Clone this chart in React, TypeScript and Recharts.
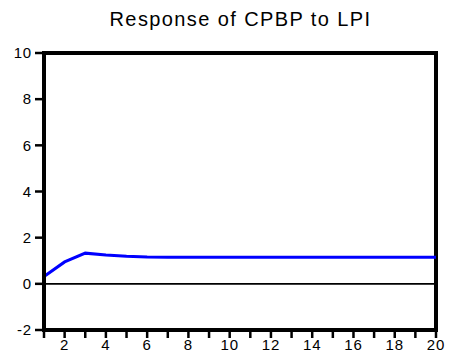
import React from "react";
import {
  LineChart,
  Line,
  XAxis,
  YAxis,
  ReferenceLine,
  ReferenceArea,
} from "recharts";

// horizon periods 1..20
const periods = [1, 2, 3, 4, 5, 6, 7, 8, 9, 10, 11, 12, 13, 14, 15, 16, 17, 18, 19, 20];
// response of CPBP to a shock in LPI
const response = [
  0.32, 0.95, 1.33, 1.25, 1.19, 1.16, 1.15, 1.15, 1.15, 1.15,
  1.15, 1.15, 1.15, 1.15, 1.15, 1.15, 1.15, 1.15, 1.15, 1.15,
];
const yTicks = [-2, 0, 2, 4, 6, 8, 10];

const data = periods.map((p, i) => ({ period: p, value: response[i] }));

const font = "'Liberation Sans', Arial, sans-serif";

export default function App() {
  return (
    <div
      style={{
        position: "absolute",
        left: 0,
        top: 0,
        width: 451,
        height: 355,
        background: "#fff",
        fontFamily: font,
      }}
    >
      <div
        style={{
          position: "absolute",
          top: 7,
          left: 0,
          width: 451,
          textAlign: "center",
          fontSize: 20,
          lineHeight: "24px",
          letterSpacing: 1.4,
          color: "#000",
          paddingLeft: 30,
          boxSizing: "border-box",
        }}
      >
        Response of CPBP to LPI
      </div>
      <LineChart
        width={451}
        height={355}
        data={data}
        margin={{ top: 53, right: 15, bottom: 0, left: 0 }}
      >
        <XAxis
          dataKey="period"
          type="number"
          domain={[1, 20]}
          ticks={periods}
          tickFormatter={(v: number) => (v % 2 === 0 ? String(v) : "")}
          interval={0}
          axisLine={{ stroke: "#000", strokeWidth: 4 }}
          tickLine={{ stroke: "#000", strokeWidth: 2.5 }}
          tickSize={8}
          tickMargin={1}
          tick={{ fontSize: 15, fill: "#000", fontFamily: font, letterSpacing: 0.8 }}
          height={25}
        />
        <YAxis
          type="number"
          domain={[-2, 10]}
          ticks={yTicks}
          interval={0}
          axisLine={{ stroke: "#000", strokeWidth: 4 }}
          tickLine={{ stroke: "#000", strokeWidth: 2.5 }}
          tickSize={9}
          tickMargin={3}
          tick={{ fontSize: 15, fill: "#000", fontFamily: font, letterSpacing: 0.8 }}
          width={44}
        />
        <ReferenceArea
          x1={1}
          x2={20}
          y1={-2}
          y2={10}
          fill="none"
          fillOpacity={0}
          stroke="#000"
          strokeWidth={4}
          strokeOpacity={1}
        />
        <ReferenceLine y={0} stroke="#000" strokeWidth={1.6} />
        <Line
          type="linear"
          dataKey="value"
          stroke="#0000ff"
          strokeWidth={3}
          dot={false}
          isAnimationActive={false}
        />
      </LineChart>
    </div>
  );
}
